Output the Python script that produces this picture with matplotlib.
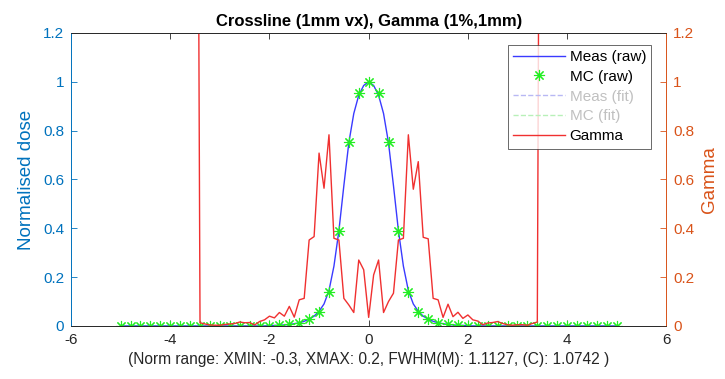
import matplotlib
matplotlib.use("Agg")
import matplotlib.pyplot as plt
import numpy as np

plt.rcParams['font.family'] = ['Liberation Sans', 'DejaVu Sans']
plt.rcParams['axes.unicode_minus'] = False

# Measured profile (raw), 0.1 mm steps from -5 to 5
meas_x = np.round(np.arange(-5.0, 5.01, 0.1), 1)
meas_y = [0.0] * 30 + [
    0.001, 0.002, 0.003, 0.004, 0.006, 0.009, 0.013, 0.019, 0.028, 0.04,
    0.06, 0.09, 0.145, 0.245, 0.39, 0.575, 0.75, 0.87, 0.945, 0.985,
    1.0,
    0.985, 0.945, 0.87, 0.75, 0.575, 0.39, 0.245, 0.145, 0.09, 0.06,
    0.04, 0.028, 0.019, 0.013, 0.009, 0.006, 0.004, 0.003, 0.002, 0.001,
] + [0.0] * 30

# Monte Carlo profile (raw), 0.2 mm steps from -5 to 5
mc_x = np.round(np.arange(-5.0, 5.01, 0.2), 1)
mc_y = [0.0] * 15 + [
    0.001, 0.003, 0.006, 0.014, 0.029, 0.058, 0.14, 0.39, 0.755, 0.955,
    1.0,
    0.955, 0.755, 0.39, 0.14, 0.058, 0.029, 0.014, 0.006, 0.003, 0.001,
] + [0.0] * 15

# Gamma index, 0.1 mm steps from -3.5 to 3.5 (ends are off scale)
gamma_x = np.round(np.arange(-3.5, 3.51, 0.1), 1)
gamma_y = [
    5.0,
    0.013, 0.008, 0.004, 0.003, 0.003, 0.006, 0.008, 0.010, 0.016, 0.013,
    0.014, 0.004, 0.018, 0.025, 0.040, 0.033, 0.055, 0.040, 0.080, 0.036,
    0.107, 0.113, 0.352, 0.366, 0.708, 0.564, 0.783, 0.359, 0.352, 0.113,
    0.086, 0.055, 0.270, 0.230,
    0.035,
    0.209, 0.270, 0.055, 0.100, 0.134, 0.352, 0.359, 0.783, 0.560, 0.673,
    0.363, 0.357, 0.113, 0.107, 0.035, 0.089, 0.038, 0.056, 0.031, 0.045,
    0.025, 0.020, 0.005, 0.012, 0.014, 0.018, 0.010, 0.005, 0.003, 0.005,
    0.005, 0.003, 0.010, 0.016,
    5.0,
]

xticks = [-6, -4, -2, 0, 2, 4, 6]
yticks = [0, 0.2, 0.4, 0.6, 0.8, 1.0, 1.2]
ytick_labels = ['0', '0.2', '0.4', '0.6', '0.8', '1', '1.2']

left_col = (0.0, 0.447, 0.741)
right_col = (0.85, 0.325, 0.098)
dark = (0.15, 0.15, 0.15)

fig = plt.figure(figsize=(7.25, 3.79), dpi=100)
ax = fig.add_axes([0.098, 0.14, 0.821, 0.773])
ax2 = ax.twinx()

l1, = ax.plot(meas_x, meas_y, color='#3a3aff', lw=1.0, label='Meas (raw)')
# asterisk marker like MATLAB's '*'
l2, = ax.plot(mc_x, mc_y, ls='none', marker=(8, 2, 0), ms=8, mew=0.8,
              color='#22ee22', label='MC (raw)')
l3, = ax.plot([], [], ls='--', color='#b8b8f4', lw=1.0, label='Meas (fit)')
l4, = ax.plot([], [], ls='--', color='#b8f0b8', lw=1.0, label='MC (fit)')
l5, = ax2.plot(gamma_x, gamma_y, color='#f03030', lw=1.0, label='Gamma')

ax.set_xlim(-6, 6)
ax.set_ylim(0, 1.2)
ax2.set_ylim(0, 1.2)
ax.set_xticks(xticks)
ax.set_yticks(yticks)
ax.set_yticklabels(ytick_labels)
ax2.set_yticks(yticks)
ax2.set_yticklabels(ytick_labels)

ax.tick_params(axis='x', direction='in', length=4, width=0.6, colors=dark,
               labelsize=11, top=True, pad=5)
ax.tick_params(axis='y', direction='in', length=4, width=0.6, colors=left_col,
               labelsize=11, pad=5)
ax2.tick_params(axis='y', direction='in', length=4, width=0.6, colors=right_col,
                labelsize=11, pad=5)

for a in (ax, ax2):
    a.spines['top'].set_color(dark)
    a.spines['bottom'].set_color(dark)
    a.spines['left'].set_color(left_col)
    a.spines['right'].set_color(right_col)
    for s in a.spines.values():
        s.set_linewidth(0.6)

ax.set_ylabel('Normalised dose', color=left_col, fontsize=13.5, labelpad=6)
ax2.set_ylabel('Gamma', color=right_col, fontsize=13.5, labelpad=5)
ax.set_xlabel('(Norm range: XMIN: -0.3, XMAX: 0.2, FWHM(M): 1.1127, (C): 1.0742 )',
              color=dark, fontsize=11.2, labelpad=4)
ax.set_title('Crossline (1mm vx), Gamma (1%,1mm)', fontsize=12, fontweight='bold',
             color='black', pad=5)

leg = ax2.legend(handles=[l1, l2, l3, l4, l5], loc='upper right',
                 bbox_to_anchor=(0.975, 0.96), fontsize=11, frameon=True,
                 fancybox=False, handlelength=3.4, labelspacing=0.38,
                 borderpad=0.35, handletextpad=0.3, borderaxespad=0)
leg.get_frame().set_edgecolor(dark)
leg.get_frame().set_linewidth(0.6)
for t, c in zip(leg.get_texts(), ['black', 'black', '#c0c0c0', '#c0c0c0', 'black']):
    t.set_color(c)

fig.savefig('out.png', dpi=100)
